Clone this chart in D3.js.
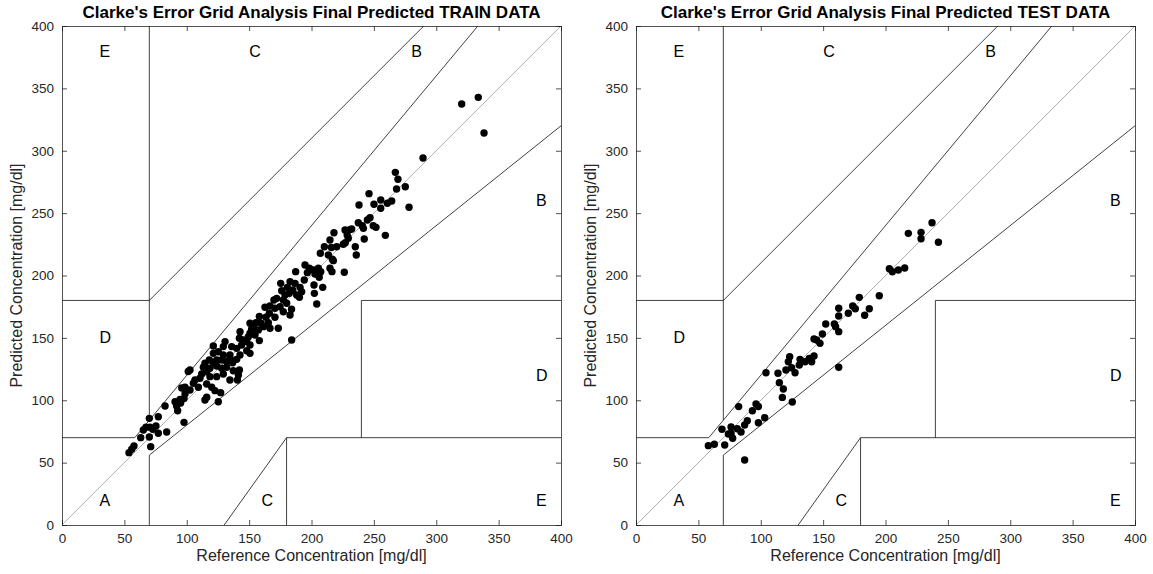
<!DOCTYPE html>
<html><head><meta charset="utf-8">
<script src="https://cdn.jsdelivr.net/npm/d3@7"></script>
<style>
body{margin:0;background:#fff;}
svg{display:block;font-family:"Liberation Sans",Arial,Helvetica,sans-serif;}
</style></head><body>
<svg id="chart" width="1153" height="574"></svg>
<script>
const titles = ["Clarke's Error Grid Analysis Final Predicted TRAIN DATA", "Clarke's Error Grid Analysis Final Predicted TEST DATA"];
const xLabel = "Reference Concentration [mg/dl]";
const yLabel = "Predicted Concentration [mg/dl]";
const tickValues = [0,50,100,150,200,250,300,350,400];

const trainData = [
[320.4,337.5],[333.7,342.8],[338.3,314.2],[289.4,294.2],[267.2,282.7],[269.3,277.1],[268.2,269.3],[275.2,271.2],[246.1,265.6],[255.5,260.5],[250.1,257.1],[238.1,256.5],[255.5,253.9],[260.8,257.9],[264.3,259.7],[278.2,254.7],
[237.5,242.3],[240.7,239.9],[246.9,246.3],[244.8,244.5],[249.5,239.9],[232.2,237.3],[226.9,236.5],
[251.7,238.6],[241.6,237.8],[259.2,232.2],[242.3,229.3],[218.0,234.3],[228.6,232.5],[230.8,236.8],[229.5,229.8],[227.1,226.3],[225.5,225.0],[235.1,223.1],[235.9,216.4],[214.8,228.5],[210.3,223.1],[215.9,222.5],[220.2,223.1],[207.1,217.8],[213.5,216.4],[216.7,213.0],
[217.5,211.9],[214.8,205.8],[216.4,203.1],[226.3,202.6],
[194.8,208.4],[198.3,205.8],[201.5,204.4],[205.5,205.8],[207.4,203.1],[196.7,202.3],[202.8,201.2],[206.2,198.6],[194.2,196.4],[187.3,203.1],[202.0,192.4],[209.0,190.5],[202.3,185.7],[204.2,177.2],
[175.3,193.7],[182.8,195.0],[186.8,193.7],[180.6,190.5],[184.9,188.4],[190.8,190.5],[192.1,187.0],[176.1,187.8],[178.8,184.4],[182.2,185.7],[188.1,184.4],[190.3,182.5],[172.1,181.7],[169.9,180.4],[177.4,180.4],[180.1,177.7],[184.0,173.0],
[162.7,174.5],[166.7,175.5],[170.7,173.7],[174.8,175.0],[177.4,171.0],[182.8,168.3],[166.2,169.7],[170.7,166.5],[163.5,166.5],[158.2,167.1],
[166.7,157.7],[173.4,157.7],[161.4,159.0],[157.4,156.3],[165.4,162.2],[159.6,161.7],[155.5,162.2],[153.4,159.5],[152.0,156.9],[150.7,153.7],[154.7,152.3],[149.4,151.0],[158.2,147.8],[142.7,155.0],[142.2,149.7],[145.4,148.3],[148.1,147.0],[144.0,144.3],[150.7,144.3],[148.1,139.7],[150.7,137.6],[140.0,141.6],[136.0,143.0],[130.7,147.0],[129.3,143.0],[121.3,143.5],[184.1,148.3],[150.7,161.7],
[121.3,137.6],[125.3,138.9],[129.3,136.3],[134.6,136.3],[142.7,136.3],[140.0,132.8],[136.8,130.1],[134.6,133.6],[132.0,130.9],[128.0,132.3],[124.0,132.3],[121.3,130.1],[118.1,132.3],[114.6,129.6],[113.3,126.4],[118.6,125.6],[124.0,127.5],[128.0,125.6],[132.0,126.4],[137.3,123.7],[142.2,124.2],[141.4,120.2],[140.6,116.2],[134.6,116.2],[129.3,121.0],[124.0,118.9],[118.6,118.9],[116.0,122.9],[112.0,121.0],[110.6,117.6],[106.6,116.2],[105.3,113.6],[102.6,124.2],[101.2,123.0],[98.6,110.4],[96.0,109.8],[102.6,108.2],[109.3,110.4],[116.0,113.0],[120.0,110.4],[122.6,107.7],[127.2,106.1],
[53.7,58.0],[55.9,60.7],[57.7,63.3],[63.1,70.0],[71.1,62.8],[70.0,70.5],[65.2,76.2],[67.3,78.3],[70.5,78.3],[72.7,76.7],[75.3,79.4],[77.2,73.5],[83.9,74.5],[77.2,86.8],[70.0,85.5],[82.6,95.4],[97.8,82.3],[90.6,98.8],[91.9,95.4],[92.7,91.6],[94.6,100.7],[97.8,101.5],[95.1,97.7],[98.6,105.0],[125.3,98.8],[116.0,102.4],[114.6,100.2]
];

const testData = [
[58.0,63.6],[62.8,64.7],[71.1,64.1],[68.9,76.7],[76.2,78.6],[74.0,72.9],[77.5,69.5],[76.2,73.5],[81.2,77.2],[84.2,74.5],[82.3,94.9],[87.1,52.1],[87.1,80.2],[89.2,83.6],[93.3,91.6],[96.2,97.0],[98.1,95.0],[98.1,82.0],[103.2,86.0],[104.2,122.1],
[125.3,98.6],[117.3,102.3],[118.1,109.0],[114.9,114.1],[113.8,121.6],[120.2,124.2],
[123.2,134.9],[122.1,130.9],[124.8,126.1],[127.5,122.1],[130.9,128.3],[131.5,132.8],[135.5,130.9],[138.9,133.6],[140.8,130.9],[142.7,135.5],
[142.7,149.1],[144.8,148.3],[147.5,145.6],[149.4,153.1],[152.1,161.1],[159.0,161.1],[160.0,159.0],[162.5,155.0],[162.5,167.5],[162.5,173.7],[162.5,126.4],
[170.2,169.7],[173.7,175.5],[175.8,173.4],[179.0,182.5],[183.3,168.1],[187.0,173.4],[195.0,183.8],
[203.1,205.5],[205.5,203.0],[210.3,204.4],[215.4,206.0],[218.3,233.8],[228.5,234.6],[228.5,229.5],[237.3,242.3],[242.4,226.6]
];

// Clarke error grid boundaries (mg/dl)
const gridSegments = [
  [[0,70],[175/3,70]],
  [[175/3,70],[400/1.2,400]],
  [[70,84],[70,400]],
  [[0,180],[70,180]],
  [[70,180],[290,400]],
  [[70,0],[70,56]],
  [[70,56],[400,320]],
  [[180,0],[180,70]],
  [[180,70],[400,70]],
  [[240,70],[240,180]],
  [[240,180],[400,180]],
  [[130,0],[180,70]]
];
const zoneLabels = [
  ["A",30,20],["D",30,150],["E",30,380],["C",150,380],["C",160,20],
  ["E",380,20],["D",380,120],["B",380,260],["B",280,380]
];

const svg = d3.select("#chart");
const panels = [
  {left:62, data:trainData, title:titles[0]},
  {left:636, data:testData, title:titles[1]}
];
const plotTop = 26, plotSize = 499;

panels.forEach(p => {
  const x = d3.scaleLinear().domain([0,400]).range([p.left, p.left+plotSize]);
  const y = d3.scaleLinear().domain([0,400]).range([plotTop+plotSize, plotTop]);
  const g = svg.append("g");

  // diagonal
  g.append("line").attr("x1",x(0)).attr("y1",y(0)).attr("x2",x(400)).attr("y2",y(400))
    .attr("stroke","#a8a8a8").attr("stroke-width",0.9);

  // grid segments
  gridSegments.forEach(s => {
    g.append("line").attr("x1",x(s[0][0])).attr("y1",y(s[0][1]))
      .attr("x2",x(s[1][0])).attr("y2",y(s[1][1]))
      .attr("stroke","#111").attr("stroke-width",0.8);
  });

  // points
  g.selectAll("circle").data(p.data).join("circle")
    .attr("cx",d=>x(d[0])).attr("cy",d=>y(d[1])).attr("r",3.7).attr("fill","#000");

  // zone labels
  zoneLabels.forEach(l => {
    g.append("text").attr("x",x(l[1])).attr("y",y(l[2])).attr("dy","0.35em")
      .attr("font-size",16).attr("fill","#000").text(l[0]);
  });

  // axes with inward ticks
  const axB = d3.axisBottom(x).tickValues(tickValues).tickSize(-5).tickPadding(8);
  const axL = d3.axisLeft(y).tickValues(tickValues).tickSize(-5).tickPadding(8);
  const axT = d3.axisTop(x).tickValues(tickValues).tickSize(-5).tickFormat("");
  const axR = d3.axisRight(y).tickValues(tickValues).tickSize(-5).tickFormat("");
  const styleAx = sel => {
    sel.selectAll("path").attr("stroke","#262626").attr("stroke-width",0.8);
    sel.selectAll("line").attr("stroke","#262626").attr("stroke-width",0.8);
    sel.selectAll("text").attr("fill","#262626").attr("font-size",13.5)
      .attr("font-family","'Liberation Sans',Arial,sans-serif");
  };
  g.append("g").attr("transform",`translate(0,${plotTop+plotSize})`).call(axB).call(styleAx);
  g.append("g").attr("transform",`translate(${p.left},0)`).call(axL).call(styleAx);
  g.append("g").attr("transform",`translate(0,${plotTop})`).call(axT).call(styleAx);
  g.append("g").attr("transform",`translate(${p.left+plotSize},0)`).call(axR).call(styleAx);

  // labels
  g.append("text").attr("x",p.left+plotSize/2).attr("y",18).attr("text-anchor","middle")
    .attr("font-size",17).attr("font-weight","bold").attr("fill","#000").text(p.title);
  g.append("text").attr("x",p.left+plotSize/2).attr("y",561).attr("text-anchor","middle")
    .attr("font-size",16).attr("fill","#262626").text(xLabel);
  g.append("text").attr("transform",`translate(${p.left-40},${plotTop+plotSize/2}) rotate(-90)`)
    .attr("text-anchor","middle").attr("font-size",16).attr("fill","#262626").text(yLabel);
});
</script>
</body></html>
